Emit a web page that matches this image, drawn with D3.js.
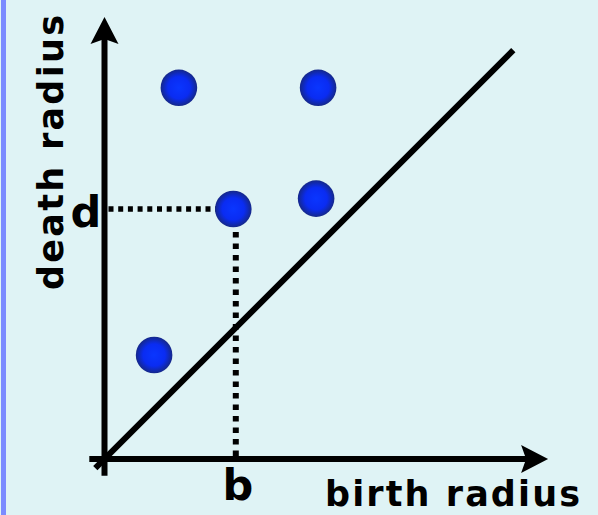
<!DOCTYPE html>
<html><head><meta charset="utf-8">
<script src="https://cdn.jsdelivr.net/npm/d3@7"></script>
<style>html,body{margin:0;padding:0;background:#dff3f5;}svg{display:block;}</style>
</head><body>
<script>
// persistence diagram points (birth, death)
const birth = [1.86, 5.34, 3.22, 5.29, 1.24];
const death = [9.28, 9.28, 6.25, 6.51, 2.60];
const highlightIndex = 2; // point with b / d guides
const xLabel = "birth radius";
const yLabel = "death radius";
const bLabel = "b";
const dLabel = "d";

const W = 598, H = 515;
const svg = d3.select("body").append("svg").attr("width", W).attr("height", H);
svg.append("rect").attr("width", W).attr("height", H).attr("fill", "#dff3f5");
svg.append("rect").attr("x", 1).attr("y", 0).attr("width", 5).attr("height", H).attr("fill", "#7b8bff");

const x = d3.scaleLinear().domain([0, 10]).range([104.5, 504.5]);
const y = d3.scaleLinear().domain([0, 10]).range([459, 59]);

const defs = svg.append("defs");
const g = defs.append("radialGradient").attr("id", "ball").attr("cx", "50%").attr("cy", "50%").attr("r", "50%");
g.append("stop").attr("offset", "0%").attr("stop-color", "#0a36ff");
g.append("stop").attr("offset", "60%").attr("stop-color", "#0a2cf2");
g.append("stop").attr("offset", "100%").attr("stop-color", "#15288a");

// diagonal
svg.append("line")
  .attr("x1", x(-0.23)).attr("y1", y(-0.23))
  .attr("x2", x(10.22)).attr("y2", y(10.22))
  .attr("stroke", "#000").attr("stroke-width", 6);

// axes
svg.append("line").attr("x1", x(0)).attr("y1", y(-0.42)).attr("x2", x(0)).attr("y2", y(10.5))
  .attr("stroke", "#000").attr("stroke-width", 6);
svg.append("line").attr("x1", x(-0.38)).attr("y1", y(0)).attr("x2", x(10.6)).attr("y2", y(0))
  .attr("stroke", "#000").attr("stroke-width", 6);

// arrowheads
const ox = x(0), oy = y(0);
const topY = y(11.05), rightX = x(11.09);
svg.append("path").attr("fill", "#000")
  .attr("d", `M${ox},${topY} L${ox+14},${topY+27} L${ox},${topY+22} L${ox-14},${topY+27} Z`);
svg.append("path").attr("fill", "#000")
  .attr("d", `M${rightX},${oy} L${rightX-27},${oy-14} L${rightX-22},${oy} L${rightX-27},${oy+14} Z`);

// guides
const hb = birth[highlightIndex], hd = death[highlightIndex];
svg.append("line").attr("x1", x(0) + 4).attr("y1", y(hd)).attr("x2", x(hb)).attr("y2", y(hd))
  .attr("stroke", "#000").attr("stroke-width", 5.5).attr("stroke-dasharray", "5,4.7");
svg.append("line").attr("x1", x(hb) + 2.5).attr("y1", y(hd)).attr("x2", x(hb) + 2.5).attr("y2", y(0))
  .attr("stroke", "#000").attr("stroke-width", 6).attr("stroke-dasharray", "5.5,6");

// points
svg.selectAll("circle.pt").data(birth.map((b, i) => [b, death[i]])).join("circle")
  .attr("class", "pt")
  .attr("cx", d => x(d[0])).attr("cy", d => y(d[1])).attr("r", 18.3)
  .attr("fill", "url(#ball)");

const font = "'DejaVu Sans', sans-serif";
svg.append("text").text(dLabel).attr("x", 86).attr("y", 227)
  .attr("text-anchor", "middle").attr("font-family", font).attr("font-weight", "bold")
  .attr("font-size", 43).attr("fill", "#000");
svg.append("text").text(bLabel).attr("x", 238).attr("y", 500)
  .attr("text-anchor", "middle").attr("font-family", font).attr("font-weight", "bold")
  .attr("font-size", 43).attr("fill", "#000");
svg.append("text").text(xLabel).attr("x", 325).attr("y", 506)
  .attr("font-family", font).attr("font-weight", "bold").attr("font-size", 35).attr("fill", "#000")
  .attr("textLength", 255).attr("lengthAdjust", "spacing");
svg.append("text").text(yLabel)
  .attr("transform", "translate(63,290) rotate(-90)")
  .attr("font-family", font).attr("font-weight", "bold").attr("font-size", 35).attr("fill", "#000")
  .attr("textLength", 275).attr("lengthAdjust", "spacing");
</script>
</body></html>
